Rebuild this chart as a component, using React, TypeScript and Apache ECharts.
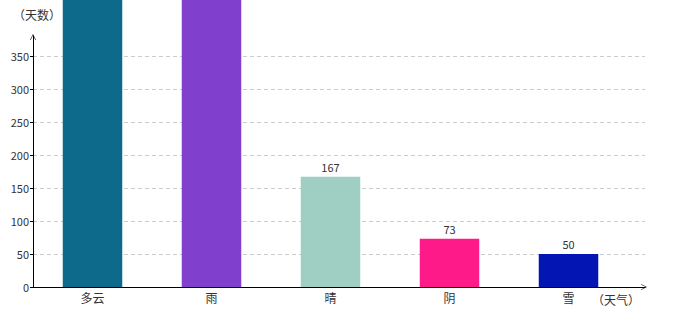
import React, { useEffect, useRef } from "react";
import * as echarts from "echarts";

const categories = ["多云", "雨", "晴", "阴", "雪"];
const values = [480, 470, 167, 73, 50];
const showValueLabel = [false, false, true, true, true];
const barColors = ["#0e6a8a", "#803fcc", "#9ecfc2", "#fe1a89", "#0316b4"];
const yTickMax = 380;
const yInterval = 50;

const FONT = "'Noto Sans CJK SC', 'DejaVu Sans', sans-serif";
const ARROW = "path://M0,10 L5,0 L10,10 L9,10 L5,2 L1,10 Z";

export default function App() {
  const ref = useRef<HTMLDivElement>(null);
  useEffect(() => {
    if (!ref.current) return;
    const chart = echarts.init(ref.current, undefined, { renderer: "svg" });
    const axisLine = {
      show: true,
      lineStyle: { color: "#000", width: 1 },
      symbol: ["none", ARROW],
      symbolSize: [8, 6],
      symbolOffset: [0, -1],
    };
    chart.setOption({
      animation: false,
      textStyle: { fontFamily: FONT },
      grid: [
        { left: 33, right: 35, top: 36, bottom: 33, containLabel: false },
        { left: 33, right: 52, top: 36, bottom: 33, containLabel: false },
      ],
      xAxis: [
        {
          type: "value",
          gridIndex: 0,
          min: 0,
          max: 1,
          name: "（天气）",
          nameLocation: "end",
          nameGap: -5,
          nameTextStyle: {
            color: "#333",
            fontSize: 12,
            align: "right",
            verticalAlign: "top",
            padding: [6, 0, 0, 0],
          },
          axisLine,
          axisTick: { show: false },
          axisLabel: { show: false },
          splitLine: { show: false },
        },
        {
          type: "category",
          gridIndex: 1,
          data: categories,
          axisLine: { show: false },
          axisTick: { show: false },
          axisLabel: { color: "#333", fontSize: 12, margin: 4 },
          splitLine: { show: false },
        },
      ],
      yAxis: [
        {
          type: "value",
          gridIndex: 0,
          min: 0,
          max: yTickMax,
          interval: yInterval,
          name: "（天数）",
          nameLocation: "end",
          nameGap: 16,
          nameTextStyle: {
            color: "#333",
            fontSize: 12,
            align: "center",
            verticalAlign: "bottom",
            padding: [0, 0, 0, 8],
          },
          axisLine,
          axisTick: { show: true, length: 3, lineStyle: { color: "#000" } },
          axisLabel: { color: "#333", fontSize: 11, margin: 4, showMaxLabel: false },
          splitLine: {
            show: true,
            showMaxLine: false,
            showMinLine: false,
            lineStyle: { color: "#ccc", type: [4, 3], width: 1 },
          },
        },
        {
          type: "value",
          gridIndex: 1,
          min: 0,
          max: yTickMax,
          interval: yInterval,
          show: false,
          splitLine: { show: false },
        },
      ],
      series: [
        {
          type: "bar",
          xAxisIndex: 1,
          yAxisIndex: 1,
          data: values.map((v, i) => ({
            value: v,
            itemStyle: { color: barColors[i] },
            label: { show: showValueLabel[i] },
          })),
          barWidth: "50%",
          clip: false,
          label: {
            show: true,
            position: "top",
            distance: 4,
            color: "#333",
            fontSize: 11,
          },
        },
      ],
    });
    return () => chart.dispose();
  }, []);
  return (
    <div
      ref={ref}
      style={{ position: "fixed", left: 0, top: 0, width: 680, height: 320, background: "#fff" }}
    />
  );
}
